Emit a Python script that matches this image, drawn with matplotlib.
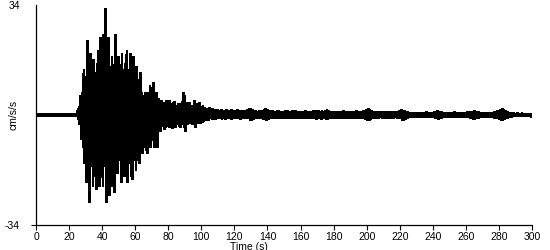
import numpy as np
import matplotlib
matplotlib.use("Agg")
import matplotlib.pyplot as plt

# Per-second peak envelope of the accelerogram (cm/s/s)
# index i = second i (0..299)
peak_pos = (
    [0.3] * 25 +
    [1.5, 2.5, 6, 7,
     14, 12, 23, 15, 19, 14, 17, 13, 16, 20,
     24, 16, 25, 33, 17, 24, 15, 18, 14, 25,
     15, 18, 13, 19, 14, 16, 20, 14, 19, 15,
     18, 12, 15, 11, 13,
     7, 6, 7, 5, 7, 9,
     8, 10, 7, 7, 5, 4, 4.5, 4, 3.5, 4.5,
     4, 4.6, 3.5, 4, 4.2, 3, 3.5, 3, 3.5, 7,
     6, 3.7, 3.5, 3.7, 3, 2.8, 4.5, 3.5, 3, 3.8,
     2.5, 3, 2.2, 2, 1.8, 2.2, 1.6, 2, 1.8, 1.5,
     1.6, 1.5, 1.8, 1.4, 1.5, 1.7, 1.3, 1.5, 1.6, 1.4,
     1.5, 1.3, 1.6, 1.4, 1.2, 1.5, 1.3, 1.4, 1.6, 2.0,
     2.1, 1.8, 1.5, 1.3, 1.2, 1.4, 1.3, 1.5, 1.6, 2.1,
     1.6, 1.4, 1.2, 1.3, 1.1, 1.2, 1.4, 1.3, 1.2, 1.1,
     1.2, 1.3, 1.5, 1.2, 1.1, 1.3, 1.2, 1.4, 1.1, 1.0,
     1.1, 1.2, 1.0, 1.3, 1.1, 1.2, 1.0, 1.2, 1.3, 1.4,
     1.3, 1.4, 1.2, 1.3, 1.2, 1.5, 1.6, 1.4, 1.2, 1.1,
     1.0, 1.2, 1.1, 1.0, 1.2, 1.1, 1.3, 1.0, 1.1, 1.2,
     1.1, 1.0, 1.2, 1.1, 1.3, 1.0, 1.1, 1.2, 1.4, 1.5,
     1.7, 1.9, 1.6, 1.4, 1.2, 1.1, 1.0, 1.1, 1.0, 0.9,
     0.9, 1.0, 1.1, 0.9, 1.0, 1.2, 1.1, 0.9, 1.0, 1.1,
     1.3, 1.6, 1.5, 1.4, 1.2, 0.9, 0.7, 0.8, 0.7, 0.6,
     0.7, 0.6, 0.8, 0.7, 0.6, 0.7, 0.9, 0.8, 0.7, 0.6,
     0.8, 1.0, 1.2, 1.3, 1.2, 1.0, 0.8, 0.7, 0.8, 0.7,
     0.7, 0.8, 0.7, 0.9, 0.8, 0.7, 0.8, 0.6, 0.7, 0.8,
     0.8, 0.9, 1.0, 1.1, 1.2, 1.3, 1.2, 1.0, 0.9, 0.8,
     0.7, 0.8, 0.7, 0.6, 0.7, 0.8, 0.7, 0.9, 1.1, 1.3,
     1.5, 1.7, 1.9, 1.6, 1.3, 1.0, 0.8, 0.7, 0.6, 0.6,
     0.5, 0.6, 0.5, 0.5, 0.6, 0.5, 0.5, 0.4, 0.5, 0.4]
)
peak_neg = (
    [-0.3] * 25 +
    [-1.5, -3, -7.5, -10,
     -15, -21, -14, -27, -16, -22, -15, -23, -16, -22,
     -17, -22, -16, -27, -17, -25, -16, -22, -24, -15,
     -18, -14, -21, -15, -19, -14, -21, -15, -19, -20,
     -14, -17, -13, -15, -12,
     -12, -10, -11, -12, -9, -10,
     -8, -10, -7, -10, -4, -5, -3.5, -4.5, -4, -3.7,
     -4, -4, -4.2, -3.5, -4, -3, -3.5, -4, -3, -4,
     -5, -3, -2.5, -2.5, -3, -2, -4, -2.5, -2, -2.5,
     -2.2, -2, -1.8, -1.5, -1.6, -1.2, -1.5, -1.3, -1.5, -1.2,
     -1.2, -1.0, -1.3, -1.1, -1.4, -1.0, -1.2, -1.1, -1.3, -1.0,
     -1.1, -1.2, -1.0, -1.3, -1.1, -1.0, -1.2, -1.1, -1.2, -1.6,
     -1.8, -1.5, -1.2, -1.0, -1.1, -1.2, -1.0, -1.3, -1.4, -1.7,
     -1.3, -1.1, -1.0, -1.2, -1.0, -0.9, -1.1, -1.2, -1.0, -0.9,
     -1.0, -1.1, -1.2, -1.0, -0.9, -1.1, -1.0, -1.2, -0.9, -0.9,
     -0.9, -1.0, -1.1, -0.9, -1.0, -1.1, -0.9, -1.2, -1.1, -1.3,
     -1.2, -1.1, -1.3, -1.2, -1.0, -1.3, -1.4, -1.2, -1.0, -1.0,
     -0.9, -1.0, -1.1, -0.9, -1.0, -0.9, -1.1, -1.0, -0.9, -1.0,
     -1.0, -0.9, -1.0, -1.1, -1.2, -0.9, -1.0, -1.1, -1.2, -1.4,
     -1.6, -1.8, -1.5, -1.2, -1.0, -0.9, -1.0, -0.9, -0.8, -0.9,
     -0.8, -0.9, -1.0, -0.8, -0.9, -1.0, -1.1, -0.8, -0.9, -1.0,
     -1.2, -1.6, -1.7, -1.3, -1.0, -0.8, -0.6, -0.7, -0.6, -0.6,
     -0.6, -0.7, -0.6, -0.8, -0.6, -0.6, -0.8, -0.7, -0.6, -0.7,
     -0.7, -0.9, -1.1, -1.4, -1.2, -0.9, -0.7, -0.6, -0.7, -0.6,
     -0.6, -0.7, -0.6, -0.7, -0.8, -0.6, -0.7, -0.6, -0.6, -0.7,
     -0.7, -0.8, -1.0, -1.1, -1.3, -1.4, -1.1, -0.9, -0.8, -0.7,
     -0.6, -0.7, -0.6, -0.6, -0.7, -0.6, -0.7, -0.9, -1.0, -1.2,
     -1.4, -1.8, -1.6, -1.5, -1.2, -0.9, -0.7, -0.6, -0.5, -0.5,
     -0.5, -0.5, -0.4, -0.5, -0.5, -0.4, -0.5, -0.4, -0.4, -0.4]
)
x_ticks = list(range(0, 301, 20))
y_limits = [-34, 34]
x_label = "Time (s)"
y_label = "cm/s/s"

plt.rcParams['font.family'] = ['Liberation Sans', 'DejaVu Sans']
PX = 72 / 100  # one pixel in points

fig = plt.figure(figsize=(5.5, 2.5), dpi=100)
ax = fig.add_axes([36 / 550, 25 / 250, (532 - 36) / 550, 220 / 250])

sec = np.arange(len(peak_pos), dtype=float)
t = np.column_stack([sec, sec + 0.5]).ravel()
y = np.column_stack([peak_pos, peak_neg]).ravel()
ax.plot(t, y, color='black', lw=1.3, antialiased=False, solid_joinstyle='miter')

ax.set_xlim(0, 300)
ax.set_ylim(*y_limits)
ax.set_xticks(x_ticks)
ax.set_xticklabels([str(v) for v in x_ticks], fontsize=7.5)
ax.set_yticks(y_limits)
ax.set_yticklabels([str(v) for v in y_limits], fontsize=7.5)
ax.tick_params(axis='x', direction='out', length=5 * PX, width=0.8, pad=2 * PX)
ax.tick_params(axis='y', direction='out', length=5 * PX, width=0.8, pad=11 * PX)
ax.yaxis.get_major_ticks()[1].tick1line.set_visible(False)

for s in ['top', 'right']:
    ax.spines[s].set_visible(False)
for s in ['left', 'bottom']:
    ax.spines[s].set_linewidth(0.9)
    ax.spines[s].set_color('black')

ax.set_xlabel(x_label, fontsize=7.5)
ax.xaxis.set_label_coords(0.43, -0.075)
ax.set_ylabel(y_label, fontsize=7.5)
ax.yaxis.set_label_coords(-0.035, 0.5)

fig.savefig("out.png", dpi=100)
